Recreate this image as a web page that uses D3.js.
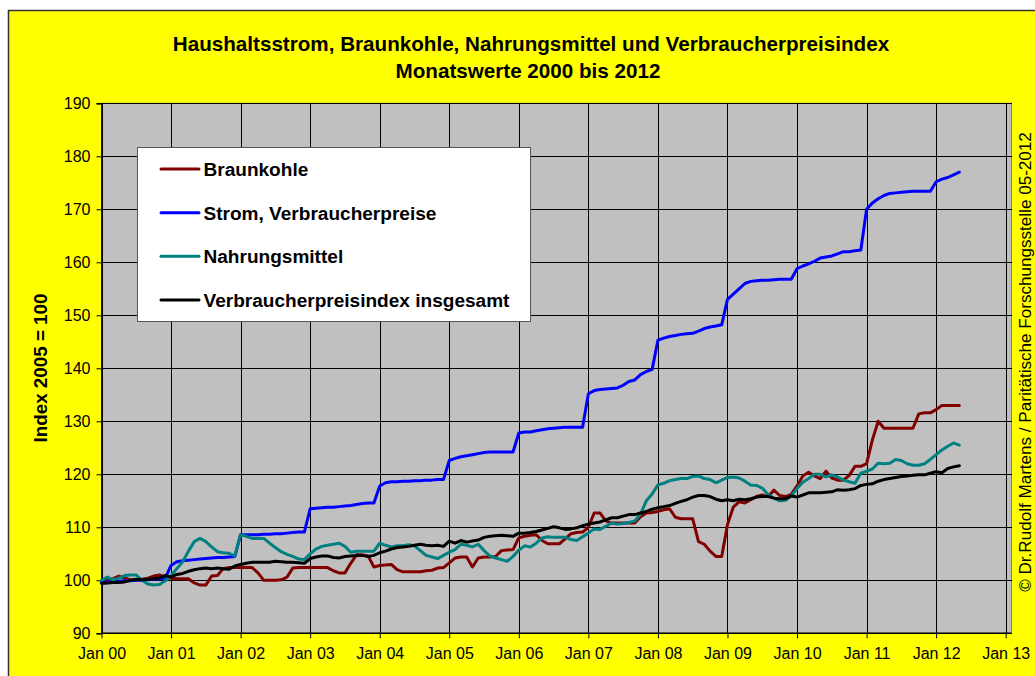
<!DOCTYPE html>
<html><head><meta charset="utf-8">
<script src="https://cdn.jsdelivr.net/npm/d3@7"></script>
<style>body{margin:0;background:#fff}svg{display:block}text{font-family:"Liberation Sans",Arial,sans-serif}</style>
</head><body><svg id="c" width="1035" height="676"></svg>
<script>
const tickLabels = ["Jan 00","Jan 01","Jan 02","Jan 03","Jan 04","Jan 05","Jan 06","Jan 07","Jan 08","Jan 09","Jan 10","Jan 11","Jan 12","Jan 13"];
const yTicks = [90,100,110,120,130,140,150,160,170,180,190];
const seriesNames = ["Braunkohle","Strom, Verbraucherpreise","Nahrungsmittel","Verbraucherpreisindex insgesamt"];
const seriesColors = ["#800000","#0000FF","#008080","#000000"];

const braunkohle = [
99.7,100.0,100.3,100.8,100.4,100.1,100.1,100.2,100.4,100.8,101.0,100.6,
100.4,100.3,100.3,100.3,99.5,99.1,99.1,100.8,100.9,102.2,102.4,102.4,
102.4,102.4,102.4,101.4,100.0,100.0,100.0,100.1,100.6,102.3,102.4,102.4,
102.4,102.4,102.4,102.4,101.8,101.4,101.4,103.2,104.8,104.8,104.6,102.5,
102.8,102.9,103.0,102.0,101.6,101.6,101.6,101.6,101.8,101.9,102.3,102.4,
103.3,104.2,104.4,104.4,102.5,104.2,104.4,104.4,104.5,105.6,105.7,105.8,
108.0,108.3,108.5,108.6,107.5,106.9,106.9,106.9,107.8,108.8,109.0,109.1,
110.0,112.7,112.7,111.2,110.8,110.8,110.8,110.8,110.8,112.0,112.7,112.8,
113.0,113.3,113.5,111.9,111.6,111.6,111.6,107.3,106.8,105.5,104.5,104.5,
110.5,113.8,114.8,114.6,115.2,115.8,116.1,115.8,117.0,116.0,115.8,116.2,
117.8,119.7,120.4,119.7,119.2,120.6,119.3,118.9,118.9,119.8,121.5,121.5,
122.0,126.5,130.0,128.7,128.7,128.7,128.7,128.7,128.7,131.4,131.6,131.6,
132.2,133.0,133.0,133.0,133.0];

const strom = [
99.6,99.7,99.8,99.8,99.9,99.9,100.0,100.0,100.1,100.2,100.3,100.4,
102.8,103.5,103.7,103.8,103.9,104.0,104.1,104.2,104.3,104.3,104.4,104.5,
108.6,108.6,108.6,108.6,108.7,108.7,108.8,108.8,108.9,109.0,109.1,109.1,
113.5,113.6,113.7,113.8,113.8,113.9,114.0,114.1,114.3,114.5,114.6,114.6,
117.8,118.4,118.6,118.6,118.7,118.7,118.8,118.8,118.9,118.9,119.0,119.0,
122.6,123.0,123.3,123.5,123.7,123.9,124.1,124.2,124.2,124.2,124.2,124.2,
127.8,128.0,128.0,128.2,128.4,128.6,128.7,128.8,128.9,128.9,128.9,128.9,
135.2,135.8,136.0,136.1,136.2,136.3,136.8,137.5,137.8,138.8,139.4,139.8,
145.3,145.7,146.0,146.2,146.4,146.5,146.6,147.0,147.5,147.8,148.0,148.2,
153.0,154.0,155.0,156.0,156.4,156.5,156.6,156.6,156.7,156.8,156.8,156.8,
158.8,159.3,159.7,160.2,160.8,161.0,161.2,161.6,162.0,162.0,162.2,162.3,
170.0,171.2,172.0,172.6,173.0,173.1,173.2,173.3,173.4,173.4,173.4,173.4,
175.2,175.7,176.0,176.5,177.0];

const nahrung = [
100.0,100.6,100.1,100.4,100.9,101.0,101.0,100.0,99.3,99.1,99.2,99.9,
100.9,102.2,103.5,105.5,107.3,107.9,107.3,106.3,105.4,105.2,105.1,104.6,
108.6,108.3,107.9,107.9,107.9,107.0,106.2,105.4,104.9,104.5,104.0,103.9,
105.0,105.9,106.4,106.6,106.8,107.0,106.4,105.3,105.5,105.5,105.5,105.5,
107.0,106.6,106.3,106.5,106.5,106.7,106.5,105.6,104.7,104.4,104.1,104.7,
105.3,105.8,106.8,106.6,106.3,106.8,105.6,104.6,104.2,103.9,103.6,104.5,
105.7,106.5,106.3,107.0,108.0,108.2,108.1,108.1,108.1,107.7,107.5,108.2,
108.9,109.7,109.6,110.2,110.8,110.6,110.7,110.9,111.2,112.5,115.0,116.3,
118.0,118.3,118.8,119.0,119.2,119.2,119.6,119.7,119.2,119.0,118.4,118.9,
119.4,119.5,119.3,118.7,118.0,117.9,117.4,116.2,115.5,115.0,115.1,115.9,
117.3,118.5,119.2,120.0,120.0,119.5,119.9,119.5,118.9,118.6,118.3,120.2,
120.6,121.0,122.1,122.0,122.1,122.8,122.6,122.0,121.7,121.7,122.0,122.8,
123.7,124.6,125.3,125.9,125.5];

const vpi = [
99.4,99.5,99.6,99.6,99.7,100.0,100.2,100.1,100.2,100.3,100.5,100.9,
100.6,101.1,101.3,101.7,102.0,102.2,102.3,102.2,102.3,102.2,102.1,102.7,
103.0,103.2,103.4,103.4,103.4,103.4,103.6,103.5,103.4,103.4,103.3,103.2,
104.1,104.4,104.6,104.6,104.3,104.2,104.5,104.6,104.7,104.7,104.5,104.7,
105.2,105.5,105.9,106.2,106.3,106.4,106.6,106.8,106.6,106.5,106.6,106.4,
107.4,107.0,107.5,107.2,107.4,107.6,108.1,108.3,108.4,108.5,108.4,108.3,
108.9,108.9,109.0,109.2,109.5,109.8,110.1,109.9,109.6,109.7,109.9,110.3,
110.6,110.8,111.0,111.4,111.8,111.8,112.1,112.4,112.4,112.7,113.0,113.4,
113.7,113.9,114.1,114.5,114.9,115.2,115.7,116.0,116.0,115.8,115.3,115.0,
115.2,115.0,115.3,115.2,115.4,115.7,115.8,115.8,115.5,115.4,115.4,115.9,
115.7,116.1,116.5,116.5,116.5,116.6,116.7,117.1,117.0,117.1,117.3,117.9,
118.1,118.2,118.7,119.0,119.2,119.4,119.6,119.7,119.8,119.9,119.9,120.2,
120.5,120.3,121.1,121.4,121.6];

const allSeries = [braunkohle, strom, nahrung, vpi];

const svg = d3.select("#c");

// chart area
svg.append("rect").attr("x",8.5).attr("y",10.5).attr("width",1040).attr("height",680)
  .attr("fill","#FFFF00").attr("stroke","#333").attr("stroke-width",1.5);

const L = 101.5, R = 1005.7, T = 103.3, B = 633.3, PR = 1011.5;
const x = d3.scaleLinear().domain([0, (tickLabels.length-1)*12]).range([L, R]);
const y = d3.scaleLinear().domain([yTicks[0], yTicks[yTicks.length-1]]).range([B, T]);

// plot area
svg.append("rect").attr("x",L).attr("y",T).attr("width",PR-L).attr("height",B-T)
  .attr("fill","#C0C0C0").attr("stroke","#808080").attr("stroke-width",1);

// gridlines
const g = svg.append("g").attr("stroke","#000").attr("stroke-width",1).attr("shape-rendering","crispEdges");
g.selectAll("line.h").data(yTicks).join("line").attr("class","h")
  .attr("x1",L).attr("x2",PR).attr("y1",d=>Math.round(y(d))+0.5).attr("y2",d=>Math.round(y(d))+0.5);
g.selectAll("line.v").data(tickLabels).join("line").attr("class","v")
  .attr("x1",(d,i)=>Math.round(x(i*12))+0.5).attr("x2",(d,i)=>Math.round(x(i*12))+0.5).attr("y1",T).attr("y2",B);

// axes
const yAxis = d3.axisLeft(y).tickValues(yTicks).tickSize(5).tickPadding(6);
const ya = svg.append("g").attr("transform",`translate(${L},0)`).call(yAxis);
ya.select(".domain").attr("stroke","#000").attr("stroke-width",1.5);
ya.selectAll("line").attr("stroke","#000");
ya.selectAll("text").attr("font-size",16).attr("font-family",'"Liberation Sans",Arial,sans-serif').attr("fill","#000");

const xAxis = d3.axisBottom(x).tickValues(d3.range(tickLabels.length).map(i=>i*12))
  .tickFormat((d,i)=>tickLabels[i]).tickSize(5).tickPadding(9);
const xa = svg.append("g").attr("transform",`translate(0,${B})`).call(xAxis);
xa.select(".domain").attr("stroke","#000").attr("stroke-width",1.5).attr("d",`M${L},0H${PR}`);
xa.selectAll("line").attr("stroke","#000");
xa.selectAll("text").attr("font-size",16).attr("font-family",'"Liberation Sans",Arial,sans-serif').attr("fill","#000");

// lines
const line = d3.line().x((d,i)=>x(i)).y(d=>y(d));
svg.append("g").selectAll("path").data(allSeries).join("path")
  .attr("d",line).attr("fill","none").attr("stroke",(d,i)=>seriesColors[i])
  .attr("stroke-width",3).attr("stroke-linejoin","round").attr("stroke-linecap","round");

function fit(sel, w){
  const fs = parseFloat(sel.attr("font-size"));
  const len = sel.node().getComputedTextLength();
  sel.attr("font-size", fs*w/len);
  return fs*w/len;
}

// title
const t1 = svg.append("text").attr("x",531).attr("y",50.5).attr("text-anchor","middle")
  .attr("font-weight","bold").attr("font-size",19)
  .text("Haushaltsstrom, Braunkohle, Nahrungsmittel und Verbraucherpreisindex");
const tfs = fit(t1, 717);
svg.append("text").attr("x",528).attr("y",77.5).attr("text-anchor","middle")
  .attr("font-weight","bold").attr("font-size",tfs)
  .text("Monatswerte 2000 bis 2012");

// y title
const yt = svg.append("text").attr("transform","translate(46.5,368) rotate(-90)").attr("text-anchor","middle")
  .attr("font-weight","bold").attr("font-size",18.7).text("Index 2005 = 100");
fit(yt,149);

// copyright
const cp = svg.append("text").attr("transform","translate(1030.5,362) rotate(-90)").attr("text-anchor","middle")
  .attr("font-size",17).text("© Dr.Rudolf Martens / Paritätische Forschungsstelle 05-2012");
fit(cp,460);

// legend
const lg = svg.append("g");
lg.append("rect").attr("x",137.5).attr("y",147.5).attr("width",393).attr("height",174)
  .attr("fill","#fff").attr("stroke","#555").attr("stroke-width",1);
const rowY = [169, 212.7, 256.3, 300];
seriesNames.forEach((n,i)=>{
  lg.append("line").attr("x1",161).attr("x2",199).attr("y1",rowY[i]).attr("y2",rowY[i])
    .attr("stroke",seriesColors[i]).attr("stroke-width",3).attr("stroke-linecap","round");
});
const probe = lg.append("text").attr("font-weight","bold").attr("font-size",16).text(seriesNames[1]);
const lfs = fit(probe,233);
probe.remove();
seriesNames.forEach((n,i)=>{
  lg.append("text").attr("x",203.5).attr("y",rowY[i]+0.358*lfs).attr("font-weight","bold")
    .attr("font-size",lfs).text(n);
});
</script></body></html>
